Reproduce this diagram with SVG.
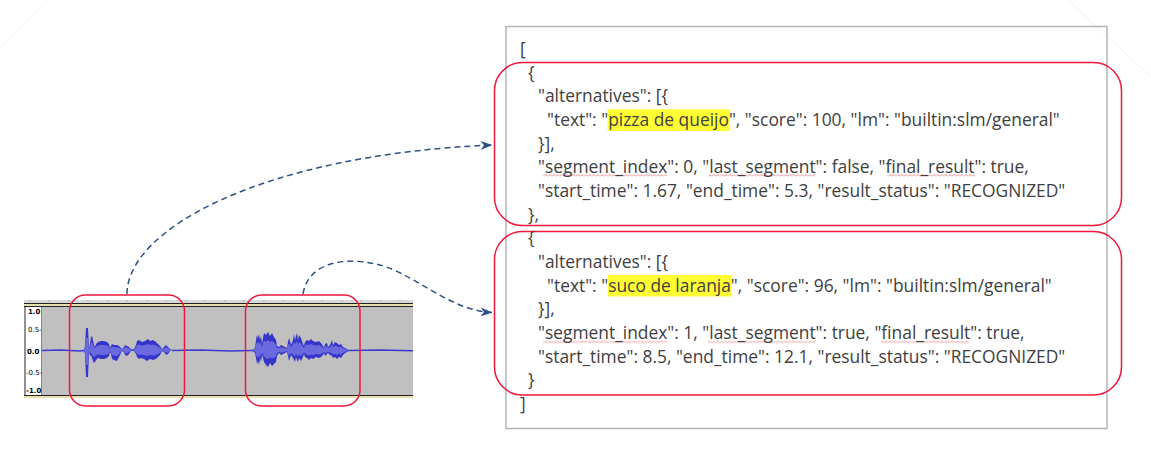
<svg xmlns="http://www.w3.org/2000/svg" xmlns:xlink="http://www.w3.org/1999/xlink" width="1151" height="456" viewBox="0 0 1151 456">
<style>
.code{font-family:"Open Sans","Noto Sans","DejaVu Sans",sans-serif;font-size:17.4px;fill:#404040}
.sel{fill:none;stroke:#f2163c;stroke-width:1.5}
.hl{fill:#ffff33}
.conn{fill:none;stroke:#2e5183;stroke-width:1.5;stroke-dasharray:6 4}
.ax{font-family:"DejaVu Sans",sans-serif;font-size:7px;fill:#000}
.axb{font-weight:bold}
.sq{fill:url(#squig)}
</style>
<defs>
<marker id="arr" viewBox="0 0 12 9" markerWidth="12" markerHeight="9" refX="11.5" refY="4.5" orient="auto" markerUnits="userSpaceOnUse">
<path d="M0,0 L12,4.5 L0,9 L3.5,4.5 Z" fill="#2e5183"/>
</marker>
<pattern id="squig" width="4" height="3" patternUnits="userSpaceOnUse">
<path d="M0,2.5 L2,0.5 L4,2.5" fill="none" stroke="#e05a5a" stroke-width="0.7"/>
</pattern>
<path id="env1" d="M84,350 L85,346 L86,328 L88,328 L89,348 L90,344 L91,337 L92,336 L93,340 L94,345 L95,347 L96,344 L98,342 L101,341 L104,341 L107,342 L109,344 L110,348 L111,346 L112,344 L114,345 L117,345 L119,346 L121,348 L122,349 L124,347 L125,345 L127,346 L129,347 L131,349 L134,349 L136,345 L137,341 L139,340 L142,342 L145,341 L148,339 L150,341 L153,340 L156,342 L158,344 L160,346 L162,349 L165,346 L166,345 L168,347 L170,349 L172,350 L170,351 L168,354 L166,355 L165,353 L162,351 L160,355 L158,357 L156,359 L153,360 L150,359 L147,361 L144,359 L141,358 L139,359 L137,357 L136,354 L134,351 L131,351 L129,354 L127,356 L125,355 L124,352 L122,351 L121,353 L119,357 L117,361 L114,360 L112,359 L111,354 L110,352 L109,356 L107,358 L104,359 L101,359 L98,358 L96,360 L95,362 L94,363 L93,361 L92,358 L91,355 L90,356 L89,352 L88,377 L86,377 L85,354 L84,351 Z"/>
<path id="env2" d="M252,350 L255,348 L256,340 L257,335 L258,338 L259,334 L260,340 L261,336 L262,344 L263,338 L264,333 L266,335 L268,332 L270,336 L272,333 L274,337 L276,340 L277,346 L279,347 L281,345 L283,346 L285,347 L287,348 L288,342 L289,338 L290,341 L291,345 L293,340 L294,334 L295,340 L296,336 L297,333 L298,340 L299,335 L301,338 L303,344 L304,346 L305,342 L307,340 L309,341 L311,339 L313,341 L316,342 L319,341 L321,343 L323,346 L324,348 L325,344 L327,343 L328,347 L330,345 L332,340 L333,345 L335,342 L337,343 L339,345 L341,344 L343,347 L345,348 L347,349 L349,350 L349,351 L347,352 L345,353 L343,355 L341,358 L339,357 L337,359 L335,357 L333,358 L332,356 L330,355 L328,353 L327,354 L325,356 L324,353 L323,355 L321,357 L319,358 L316,357 L313,359 L311,358 L309,360 L307,358 L305,357 L304,354 L303,357 L301,361 L299,358 L298,362 L297,360 L296,357 L295,362 L294,360 L293,358 L291,355 L290,358 L289,361 L288,356 L287,352 L285,353 L283,354 L281,355 L279,353 L277,356 L276,362 L274,364 L272,366 L270,363 L268,367 L266,365 L264,362 L263,358 L262,355 L261,362 L260,358 L259,365 L258,361 L257,364 L256,358 L255,353 L252,351 Z"/>
</defs>
<rect width="1151" height="456" fill="#ffffff"/>
<line x1="0" y1="48" x2="47" y2="0" stroke="#f3f3f3" stroke-width="1"/>
<line x1="1068" y1="0" x2="1151" y2="77" stroke="#f0f0f0" stroke-width="1"/>

<g id="waveform">
<rect x="24" y="300" width="389" height="3" fill="#d8d8d8"/>
<path d="M30,300v2 M49,300v2 M69,300v2 M88,300v2 M108,300v2 M127,300v2 M147,300v2 M166,300v2 M186,300v2 M205,300v2 M225,300v2 M244,300v2 M264,300v2 M283,300v2 M303,300v2 M322,300v2 M342,300v2 M361,300v2 M381,300v2 M400,300v2" stroke="#9a9a9a" stroke-width="0.6"/>
<rect x="24" y="303" width="389" height="4" fill="#e6dfae"/>
<line x1="24" y1="303.5" x2="413" y2="303.5" stroke="#222" stroke-width="1"/>
<line x1="24" y1="306.5" x2="413" y2="306.5" stroke="#222" stroke-width="1"/>
<rect x="24" y="307" width="18" height="88" fill="#ffffff"/>
<rect x="42" y="307" width="371" height="88" fill="#c0c0c0"/>
<line x1="25" y1="307" x2="25" y2="395" stroke="#222" stroke-width="1"/>
<line x1="41.5" y1="307" x2="41.5" y2="395" stroke="#666" stroke-width="0.8"/>
<rect x="24" y="395" width="389" height="3" fill="#e6dfae"/>
<line x1="24" y1="395.5" x2="413" y2="395.5" stroke="#222" stroke-width="1"/>
<text class="ax axb" x="28" y="313.5">1.0</text>
<text class="ax" x="28" y="332">0.5-</text>
<text class="ax axb" x="27" y="353.5">0.0</text>
<text class="ax" x="26" y="375">-0.5-</text>
<text class="ax axb" x="26" y="393">-1.0</text>
<path d="M42,350.5 L60,350 L80,351 L84,350.5 M172,350.5 L200,350 L230,351 L252,350.5 M349,350.5 L380,350 L413,350.8" stroke="#3a3ad0" stroke-width="1.4" fill="none"/>
<use xlink:href="#env1" fill="#3535cc"/>
<use xlink:href="#env1" fill="#6a6ade" transform="translate(0,350) scale(1,0.55) translate(0,-350)"/>
<use xlink:href="#env2" fill="#3535cc"/>
<use xlink:href="#env2" fill="#6a6ade" transform="translate(0,350) scale(1,0.55) translate(0,-350)"/>
</g>

<g id="wave-sel-1"><rect class="sel" x="69.5" y="295" width="115" height="111" rx="16"/></g>
<g id="wave-sel-2"><rect class="sel" x="245.5" y="295" width="114.5" height="111" rx="16"/></g>

<g id="json-box">
<rect x="506" y="26.5" width="601" height="402" fill="none" stroke="#b4b4b4" stroke-width="1.5"/>
<rect class="hl" x="607.5" y="109.3" width="122.5" height="21.7"/>
<rect class="hl" x="608" y="275" width="123.5" height="21.5"/>
<rect class="sq" x="543" y="174" width="124" height="3"/>
<rect class="sq" x="708" y="174" width="107" height="3"/>
<rect class="sq" x="887" y="174" width="88" height="3"/>
<rect class="sq" x="543" y="339" width="124" height="3" transform="translate(0,1.5)"/>
<rect class="sq" x="708" y="339" width="107" height="3" transform="translate(0,1.5)"/>
<rect class="sq" x="881" y="339" width="88" height="3" transform="translate(0,1.5)"/>
<text class="code" x="520" y="55">[</text>
<text class="code" x="520" y="410">]</text>
</g>

<g id="segment-1">
<rect class="sel" x="494.5" y="62.5" width="627" height="163" rx="28"/>
<text class="code" x="528" y="78.7">{</text>
<text class="code" x="538" y="102.3">"alternatives": [{</text>
<text class="code" x="547" y="126">"text": "pizza de queijo", "score": 100, "lm": "builtin:slm/general"</text>
<text class="code" x="538" y="149.7">}],</text>
<text class="code" x="538" y="173.3">"segment_index": 0, "last_segment": false, "final_result": true,</text>
<text class="code" x="538" y="197">"start_time": 1.67, "end_time": 5.3, "result_status": "RECOGNIZED"</text>
<text class="code" x="528" y="220.7">},</text>
</g>

<g id="segment-2">
<rect class="sel" x="494.5" y="231.5" width="627" height="163.5" rx="28"/>
<text class="code" x="528" y="244.3">{</text>
<text class="code" x="538" y="268">"alternatives": [{</text>
<text class="code" x="547" y="291.7">"text": "suco de laranja", "score": 96, "lm": "builtin:slm/general"</text>
<text class="code" x="538" y="315.3">}],</text>
<text class="code" x="538" y="339">"segment_index": 1, "last_segment": true, "final_result": true,</text>
<text class="code" x="538" y="362.7">"start_time": 8.5, "end_time": 12.1, "result_status": "RECOGNIZED"</text>
<text class="code" x="528" y="386.3">}</text>
</g>

<g id="connectors">
<path class="conn" d="M127,294 C127,230 260,155 492,145" marker-end="url(#arr)"/>
<path class="conn" d="M303,294 C308,262 345,258 370,263 C410,268 445,310 492,312.5" marker-end="url(#arr)"/>
</g>
</svg>
